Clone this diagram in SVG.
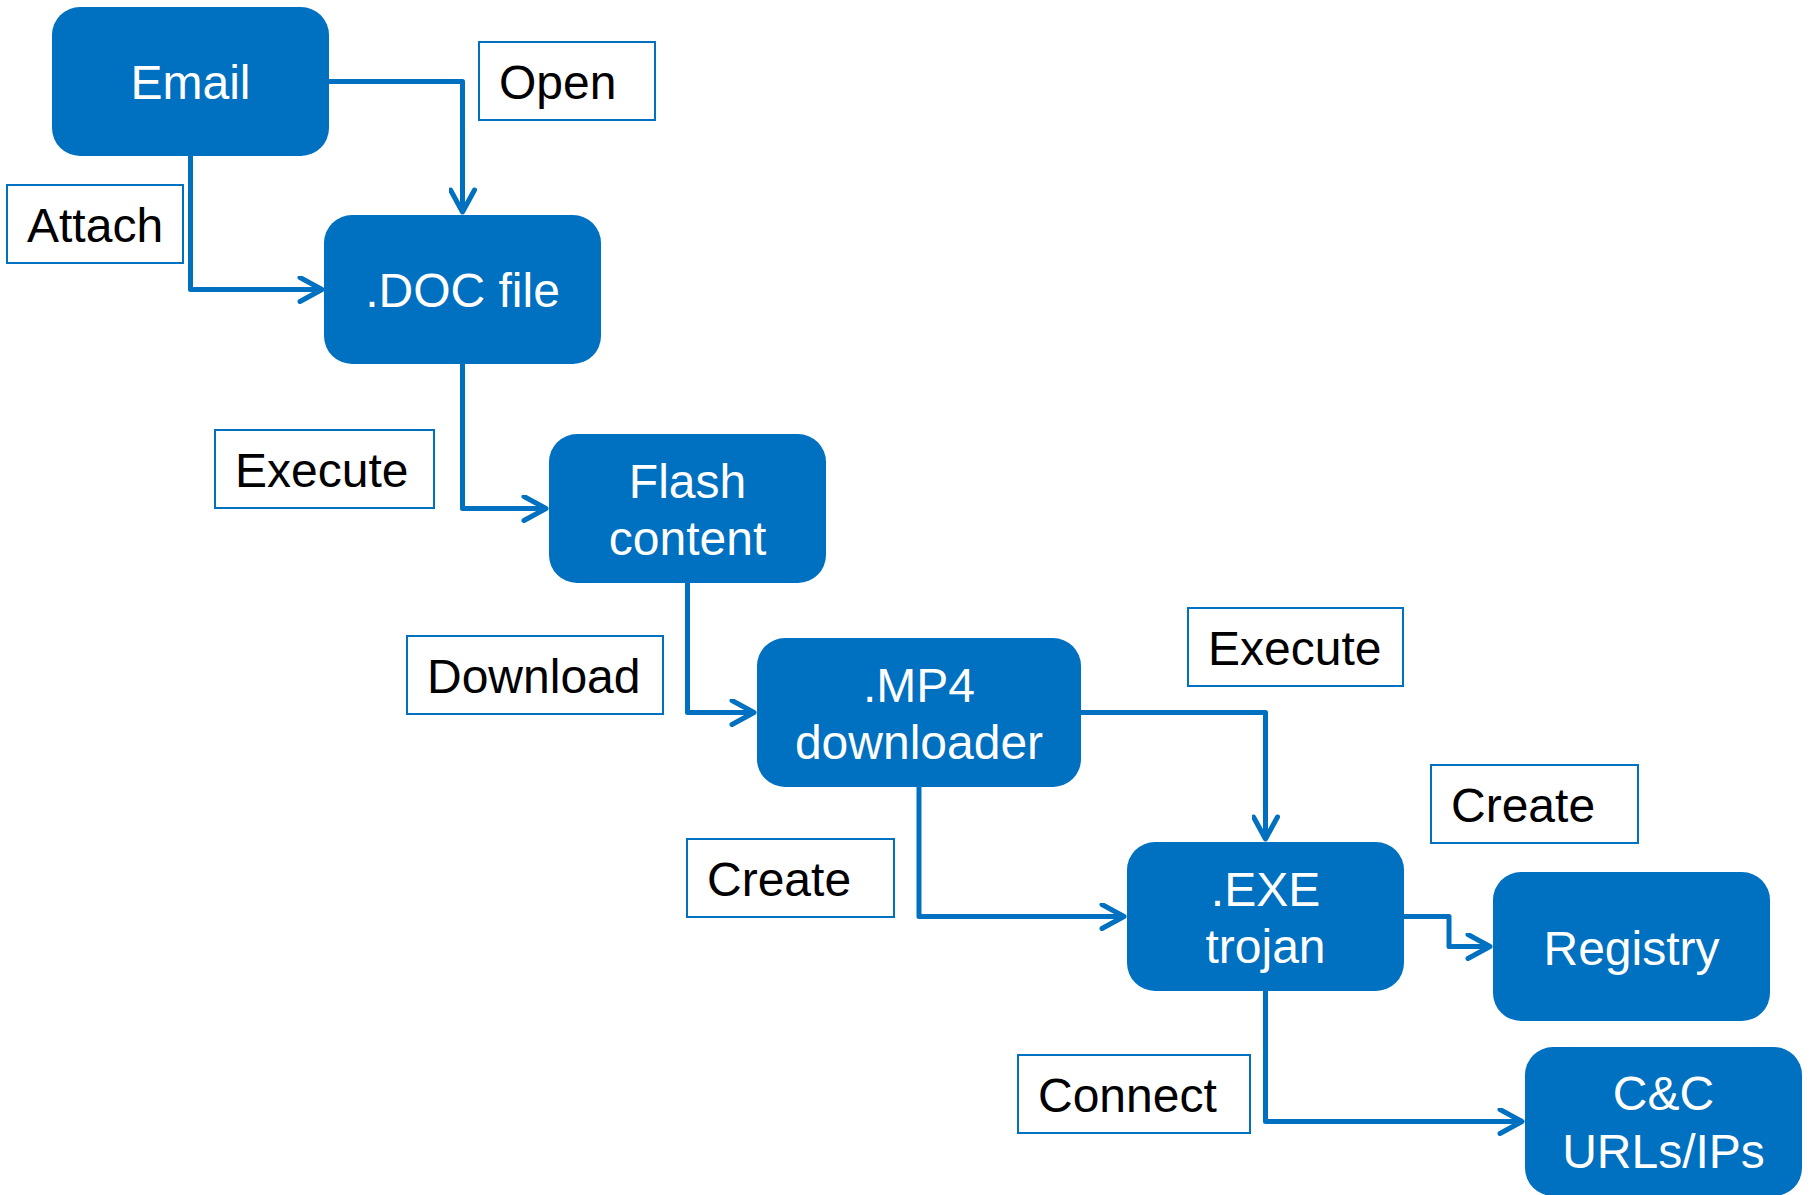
<svg xmlns="http://www.w3.org/2000/svg" width="1812" height="1195" viewBox="0 0 1812 1195">
  <style>
    .node rect { fill: #0070C0; }
    .node text { fill: #FFFFFF; font-family: "Liberation Sans", Arial, sans-serif; font-size: 48px; text-anchor: middle; }
    .label rect { fill: #FFFFFF; stroke: #0070C0; stroke-width: 2; }
    .label text { fill: #000000; font-family: "Liberation Sans", Arial, sans-serif; font-size: 48px; }
    .edge { fill: none; stroke: #0070C0; stroke-width: 5; stroke-linejoin: round; }
    .head { fill: none; stroke: #0070C0; stroke-width: 5; stroke-linecap: round; stroke-linejoin: round; }
  </style>
  <defs>
    <marker id="arrow" viewBox="-26 -14 30 28" refX="0" refY="0" markerWidth="30" markerHeight="28" markerUnits="userSpaceOnUse" orient="auto">
      <path d="M-22,-12 L0,0 L-22,12" fill="none" stroke="#0070C0" stroke-width="5" stroke-linecap="round" stroke-linejoin="round"/>
    </marker>
  </defs>
  <rect width="1812" height="1195" fill="#FFFFFF"/>

  <!-- connectors -->
  <g id="connectors">
    <path class="edge" d="M329,81.5 H462.5 V212" marker-end="url(#arrow)"/>
    <path class="edge" d="M190.5,156 V289.5 H322" marker-end="url(#arrow)"/>
    <path class="edge" d="M462.5,364 V508.5 H546" marker-end="url(#arrow)"/>
    <path class="edge" d="M687.5,583 V712.5 H754" marker-end="url(#arrow)"/>
    <path class="edge" d="M1081,712.5 H1265.5 V839" marker-end="url(#arrow)"/>
    <path class="edge" d="M919,787 V916.5 H1124" marker-end="url(#arrow)"/>
    <path class="edge" d="M1404,916.5 H1449 V946.5 H1490" marker-end="url(#arrow)"/>
    <path class="edge" d="M1265.5,991 V1121.5 H1522" marker-end="url(#arrow)"/>
  </g>

  <!-- edge labels -->
  <g id="label-open" class="label"><rect x="479" y="42" width="176" height="78"/><text x="499" y="99">Open</text></g>
  <g id="label-attach" class="label"><rect x="7" y="185" width="176" height="78"/><text x="27" y="242">Attach</text></g>
  <g id="label-execute-doc" class="label"><rect x="215" y="430" width="219" height="78"/><text x="235" y="487">Execute</text></g>
  <g id="label-download" class="label"><rect x="407" y="636" width="256" height="78"/><text x="427" y="693">Download</text></g>
  <g id="label-execute-mp4" class="label"><rect x="1188" y="608" width="215" height="78"/><text x="1208" y="665">Execute</text></g>
  <g id="label-create-reg" class="label"><rect x="1431" y="765" width="207" height="78"/><text x="1451" y="822">Create</text></g>
  <g id="label-create-exe" class="label"><rect x="687" y="839" width="207" height="78"/><text x="707" y="896">Create</text></g>
  <g id="label-connect" class="label"><rect x="1018" y="1055" width="232" height="78"/><text x="1038" y="1112">Connect</text></g>

  <!-- nodes -->
  <g id="node-email" class="node"><rect x="52" y="7" width="277" height="149" rx="28"/><text x="190.5" y="99">Email</text></g>
  <g id="node-doc" class="node"><rect x="324" y="215" width="277" height="149" rx="28"/><text x="462.5" y="307">.DOC file</text></g>
  <g id="node-flash" class="node"><rect x="549" y="434" width="277" height="149" rx="28"/><text x="687.5" y="498">Flash</text><text x="687.5" y="555">content</text></g>
  <g id="node-mp4" class="node"><rect x="757" y="638" width="324" height="149" rx="28"/><text x="919" y="702">.MP4</text><text x="919" y="759">downloader</text></g>
  <g id="node-exe" class="node"><rect x="1127" y="842" width="277" height="149" rx="28"/><text x="1265.5" y="906">.EXE</text><text x="1265.5" y="963">trojan</text></g>
  <g id="node-registry" class="node"><rect x="1493" y="872" width="277" height="149" rx="28"/><text x="1631.5" y="965">Registry</text></g>
  <g id="node-cc" class="node"><rect x="1525" y="1047" width="277" height="149" rx="28"/><text x="1663.5" y="1110">C&amp;C</text><text x="1663.5" y="1168">URLs/IPs</text></g>
</svg>
